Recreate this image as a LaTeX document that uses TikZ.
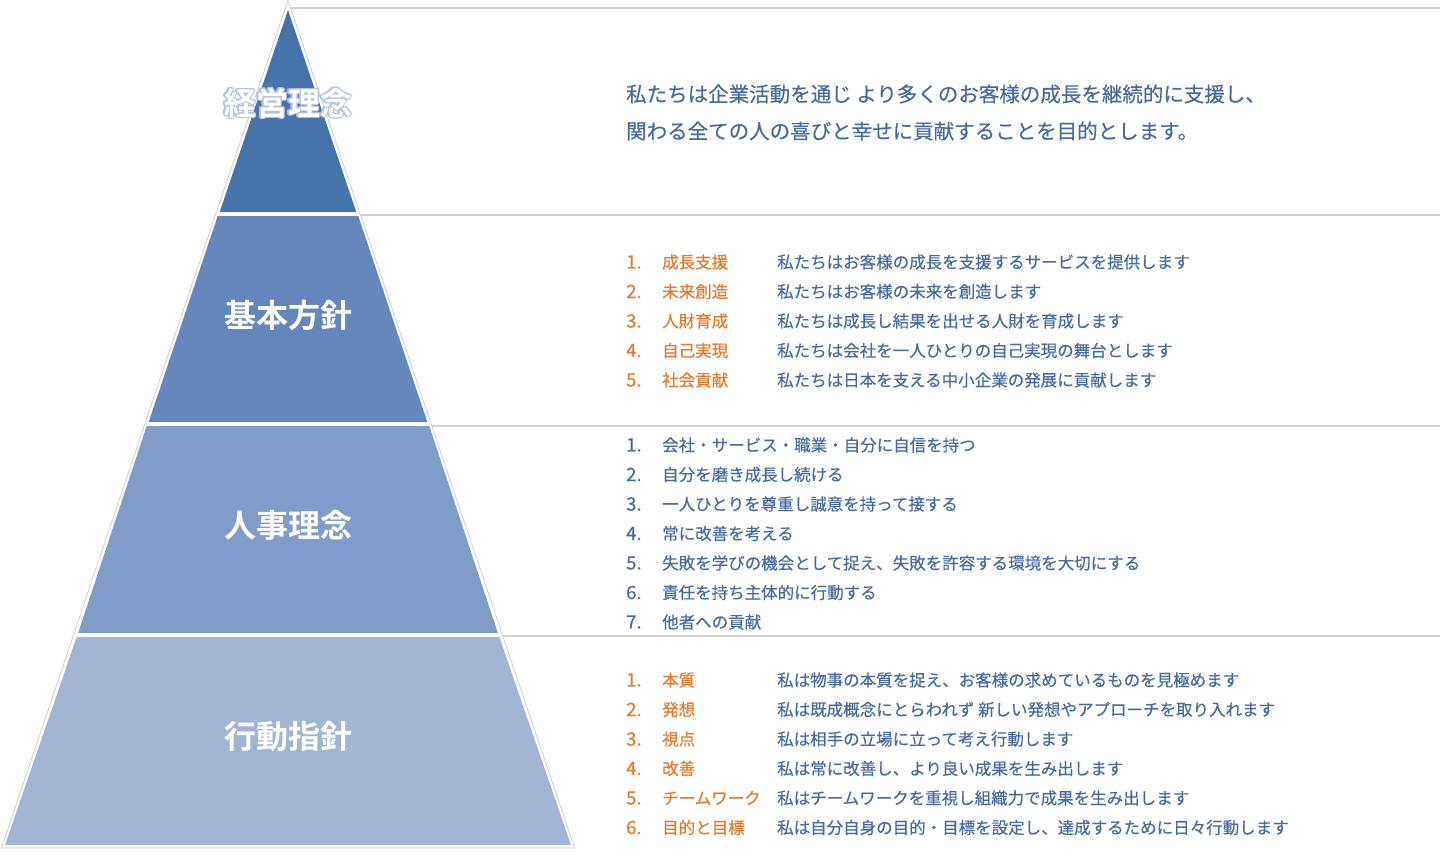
\documentclass[tikz,border=0pt]{standalone}
\usepackage{fontspec}
\usetikzlibrary{calc}
\setmainfont{Noto Sans CJK JP}
\newfontfamily\boldjp{Noto Sans CJK JP Bold}
\newfontfamily\bodyjp[FakeBold=0.35]{Noto Sans CJK JP}
\definecolor{bandA}{HTML}{4573AA}
\definecolor{bandB}{HTML}{6386BB}
\definecolor{bandC}{HTML}{7F9DC8}
\definecolor{bandD}{HTML}{A1B4D4}
\definecolor{txtblue}{HTML}{46699E}
\definecolor{txtorange}{HTML}{E7772A}
\definecolor{rulegrey}{HTML}{CFCFCF}
\definecolor{outlineblue}{HTML}{B3C3DD}
\tikzset{
  band/.style={draw=none},
  title/.style={text=white,font=\boldjp\fontsize{32}{36}\selectfont,inner sep=0pt},
  ghost/.style={text=outlineblue,font=\boldjp\fontsize{32}{36}\selectfont,inner sep=0pt},
  lead/.style={text=txtblue,font=\bodyjp\fontsize{20.5}{24}\selectfont,anchor=west,inner sep=0pt},
  num/.style={text=txtblue,font=\bodyjp\fontsize{18.5}{21}\selectfont,anchor=west,inner sep=0pt},
  onum/.style={text=txtorange,font=\bodyjp\fontsize{18.5}{21}\selectfont,anchor=west,inner sep=0pt},
  item/.style={text=txtblue,font=\bodyjp\fontsize{16.5}{19}\selectfont,anchor=west,inner sep=0pt},
  oitem/.style={text=txtorange,font=\bodyjp\fontsize{16.5}{19}\selectfont,anchor=west,inner sep=0pt},
  rule/.style={draw=rulegrey,line width=2pt},
}
\begin{document}
\begin{tikzpicture}[x=1pt,y=-1pt]
\useasboundingbox (0,0) rectangle (1440,867);
% outer pyramid
\fill[white,draw=rulegrey,line width=0.8pt] (288,0.6) -- (574.5,848) -- (1.5,848) -- cycle;
% bands
\fill[bandA] (288,10) -- (356.3,212) -- (219.7,212) -- cycle;
\fill[bandB] (217.7,216) -- (358.3,216) -- (427.3,422) -- (148.7,422) -- cycle;
\fill[bandC] (146.7,426) -- (429.3,426) -- (497.9,633) -- (78.1,633) -- cycle;
\fill[bandD] (76.7,637) -- (499.3,637) -- (571,845) -- (5,845) -- cycle;
% rules
\coordinate (r1) at (291,8);  \coordinate (r1e) at (1440,8);
\coordinate (r2) at (360.5,215); \coordinate (r2e) at (1440,215);
\coordinate (r3) at (431.8,426); \coordinate (r3e) at (1440,426);
\coordinate (r4) at (502.8,636); \coordinate (r4e) at (1440,636);
\draw[rule] (r1) -- (r1e);
\draw[rule] (r2) -- (r2e);
\draw[rule] (r3) -- (r3e);
\draw[rule] (r4) -- (r4e);
% titles
\foreach \a in {0,22.5,...,337.5} {
  \node[ghost] at ($(288,103)+(\a:1.1)$) {経営理念};
}
\node[title] (t1) at (288,103) {経営理念};
\node[title] (t2) at (288,315) {基本方針};
\node[title] (t3) at (288,525) {人事理念};
\node[title] (t4) at (288,736) {行動指針};
% lead text
\node[lead] (l1) at (626,94) {私たちは企業活動を通じ より多くのお客様の成長を継続的に支援し、};
\node[lead] (l2) at (626,131) {関わる全ての人の喜びと幸せに貢献することを目的とします。};
% basic policy
\foreach \i/\y/\k/\d in {1/262/成長支援/私たちはお客様の成長を支援するサービスを提供します,
                          2/291.5/未来創造/私たちはお客様の未来を創造します,
                          3/321/人財育成/私たちは成長し結果を出せる人財を育成します,
                          4/350.5/自己実現/私たちは会社を一人ひとりの自己実現の舞台とします,
                          5/380/社会貢献/私たちは日本を支える中小企業の発展に貢献します} {
  \node[onum] (bn\i) at (626,\y) {\i.};
  \node[oitem] (bk\i) at (662,\y) {\k};
  \node[item] (bd\i) at (777,\y) {\d};
}
% HR philosophy
\foreach \i/\y/\d in {1/445/会社・サービス・職業・自分に自信を持つ,
                      2/474.5/自分を磨き成長し続ける,
                      3/504/一人ひとりを尊重し誠意を持って接する,
                      4/533.5/常に改善を考える,
                      5/563/失敗を学びの機会として捉え、失敗を許容する環境を大切にする,
                      6/592.5/責任を持ち主体的に行動する,
                      7/622/他者への貢献} {
  \node[num] (hn\i) at (626,\y) {\i.};
  \node[item] (hd\i) at (662,\y) {\d};
}
% action guidelines
\foreach \i/\y/\k/\d in {1/680/本質/私は物事の本質を捉え、お客様の求めているものを見極めます,
                          2/709.5/発想/私は既成概念にとらわれず 新しい発想やアプローチを取り入れます,
                          3/739/視点/私は相手の立場に立って考え行動します,
                          4/768.5/改善/私は常に改善し、より良い成果を生み出します,
                          5/798/チームワーク/私はチームワークを重視し組織力で成果を生み出します,
                          6/827.5/目的と目標/私は自分自身の目的・目標を設定し、達成するために日々行動します} {
  \node[onum] (an\i) at (626,\y) {\i.};
  \node[oitem] (ak\i) at (662,\y) {\k};
  \node[item] (ad\i) at (777,\y) {\d};
}
\end{tikzpicture}
\end{document}
